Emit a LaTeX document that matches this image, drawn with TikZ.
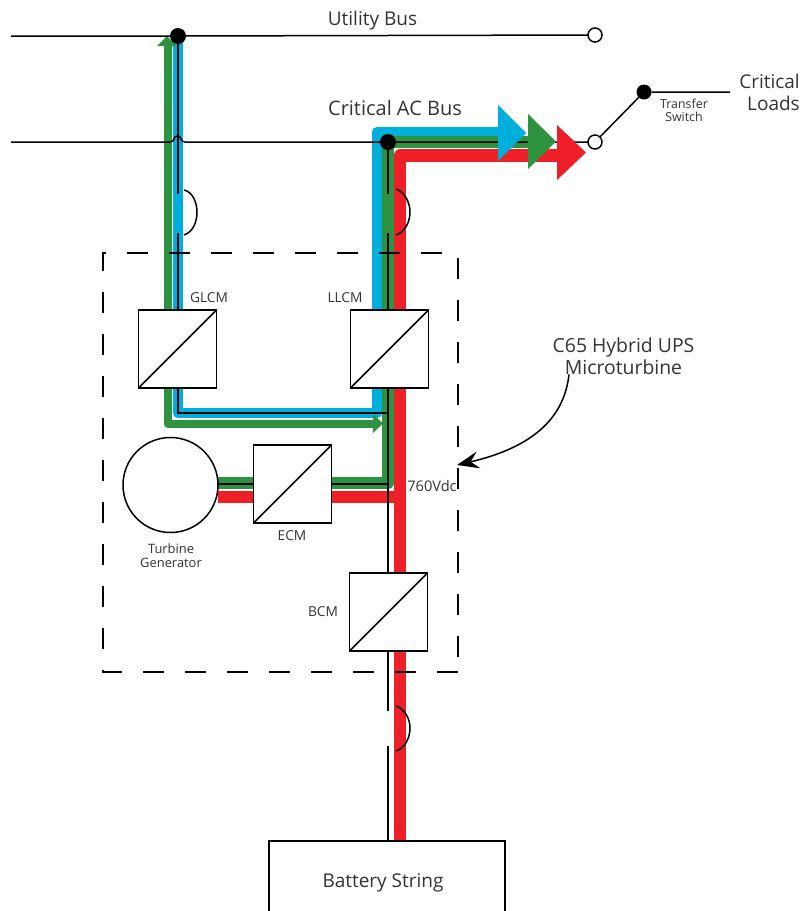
\documentclass[tikz,border=0pt]{standalone}
\usepackage{fontspec}
\setmainfont{Open Sans}
\usetikzlibrary{arrows.meta}
\definecolor{bandblue}{HTML}{00AEDB}
\definecolor{bandgreen}{HTML}{2E9340}
\definecolor{bandred}{HTML}{EE1F26}
\definecolor{txt}{HTML}{333333}
\tikzset{
  wire/.style={draw=black,line width=1.5pt},
  wirethick/.style={draw=black,line width=2pt},
  conv/.style={draw=black,fill=white,line width=1.5pt,minimum size=78pt,inner sep=0pt,outer sep=0pt},
  opendot/.style={circle,draw=black,fill=white,line width=1.5pt,minimum size=14pt,inner sep=0pt,outer sep=0pt},
  soliddot/.style={circle,fill=black,minimum size=16pt,inner sep=0pt,outer sep=0pt},
  big/.style={text=txt,font=\fontsize{19}{21.5}\selectfont,inner sep=0pt,align=center},
  small/.style={text=txt,font=\fontsize{13.7}{14}\selectfont,inner sep=0pt,align=center},
  tiny/.style={text=txt,font=\fontsize{12.4}{13}\selectfont,inner sep=0pt,align=center},
  band/.style={line width=#1,line join=round},
}
\begin{document}
\begin{tikzpicture}[x=1pt,y=-1pt]
\useasboundingbox (0,0) rectangle (811,911);
% named points
\coordinate (ul) at (11,36);
\coordinate (cl) at (11,142);
\coordinate (br1a) at (178,194);
\coordinate (br1b) at (178,233);
\coordinate (br2a) at (388,194);
\coordinate (br2b) at (388,233);
\coordinate (br3a) at (388,711);
\coordinate (br3b) at (388,746);
\coordinate (sw) at (730,92);
\coordinate (ltip) at (457,465);
% bands
\draw[bandblue,band=10.5pt] (178,36) -- (178,413) -- (377,413) -- (377,132) -- (498,132);
\draw[bandgreen,band=8pt] (167.5,46) -- (167.5,423.5) -- (374,423.5);
\fill[bandgreen] (157,46) -- (167,36) -- (177,46) -- cycle;
\draw[bandred,band=12.5pt] (218,497) -- (400,497);
\draw[bandred,band=12.5pt] (400,841) -- (400,155.5) -- (557,155.5);
\draw[bandgreen,band=12pt] (218,483) -- (388,483) -- (388,142) -- (528,142);
\fill[bandgreen] (373,414) -- (383,423.5) -- (373,433) -- cycle;
% nodes
\node[soliddot] (ud) at (178,36) {};
\node[soliddot] (cd) at (388,142) {};
\node[opendot] (uo) at (595,35) {};
\node[opendot] (co) at (595,142) {};
\node[soliddot,minimum size=15pt] (sd) at (644,92) {};
% wires
\draw[wire] (ul) -- (ud) -- (uo);
\draw[wire] (cl) -- (170,142) .. controls (175,142) and (173,136) .. (177.5,136) .. controls (182,136) and (180,142) .. (185,142) -- (cd) -- (co);
\draw[wirethick] (ud) -- (br1a);
\draw[wirethick] (cd) -- (br2a);
% arrow heads
\fill[bandblue] (498,105) -- (526,133) -- (498,161) -- cycle;
\fill[bandgreen] (528,114) -- (556,141.5) -- (528,169) -- cycle;
\fill[bandred] (557,125) -- (586,152.5) -- (557,180) -- cycle;
% converters
\node[conv] (glcm) at (177.5,349) {};
\node[conv] (llcm) at (389.5,349) {};
\node[conv] (ecm) at (292.5,484) {};
\node[conv] (bcm) at (388.5,612) {};
\node[circle,draw=black,fill=white,line width=1.5pt,minimum size=95pt,inner sep=0pt,outer sep=0pt] (gen) at (170.5,485) {};
\node[inner sep=0pt,outer sep=0pt,minimum width=236pt,minimum height=70pt] (batt) at (387,876) {};
\foreach \b in {glcm,llcm,ecm,bcm} \draw[wire] (\b.south west) -- (\b.north east);
% remaining wires
\draw[wirethick] (br1b) -- (glcm.north -| br1b);
\draw[wirethick] (br2b) -- (llcm.north -| br2b);
\draw[wirethick] (glcm.south -| br1b) -- (178,413) -- (388,413);
\draw[wirethick] (llcm.south -| br2b) -- (bcm.north -| br2b);
\draw[wirethick] (bcm.south -| br2b) -- (br3a);
\draw[wirethick] (br3b) -- (batt.north -| br3b);
\draw[wire] (gen.east |- 0,484) -- (ecm.west |- 0,484);
\draw[wire] (ecm.east |- 0,484) -- (388,484);
% bridges
\draw[wire] (184,190) .. controls (193,192) and (197,203) .. (197,212) .. controls (197,222) and (193,232) .. (184,235);
\draw[wire] (396,189) .. controls (405,192) and (410,203) .. (410,212) .. controls (410,222) and (405,232) .. (396,235);
\draw[wire] (396,706) .. controls (405,709) and (410,719) .. (410,728) .. controls (410,738) and (405,748) .. (396,751);
% switch
\draw[wire] (co) -- (sd) -- (sw);
% dashed enclosure
\draw[black,line width=1.5pt,dash pattern=on 21pt off 21pt] (458,672) -- (103,672) -- (103,253) -- (458,253) -- cycle;
% battery
\draw[wire] (batt.south west) -- (batt.north west) -- (batt.north east) -- (batt.south east);
% texts
\node[big] (t1) at (372.5,21) {Utility Bus};
\node[big,font=\fontsize{20}{24}\selectfont] (t2) at (395,108) {Critical AC Bus};
\node[big,align=right,anchor=north east] (t3) at (800,74) {Critical\\Loads};
\node[tiny] (t4) at (684,110) {Transfer\\Switch};
\node[small] (t5) at (209,298) {GLCM};
\node[small] (t6) at (345,298) {LLCM};
\node[small,font=\fontsize{12.9}{14}\selectfont] (t7) at (171,556) {Turbine\\Generator};
\node[small] (t8) at (292,536) {ECM};
\node[small] (t9) at (323,612) {BCM};
\node[small,font=\fontsize{14.6}{15}\selectfont] (t10) at (432,486) {760Vdc};
\node[big,font=\fontsize{19.4}{21.5}\selectfont] (t11) at (623.5,356) {C65 Hybrid UPS\\Microturbine};
\node[big] (t12) at (383,883) {Battery String};
% callout
\draw[black,line width=1.5pt,-{Stealth[length=22pt,width=17pt,inset=8pt]}] (t11.south -| 569,0) .. controls (564,420) and (530,448) .. (ltip);
\end{tikzpicture}
\end{document}
